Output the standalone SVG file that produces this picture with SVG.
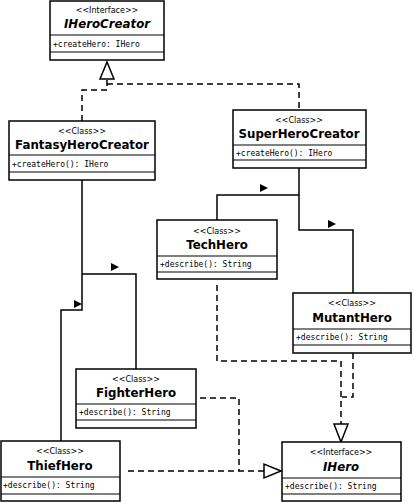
<svg xmlns="http://www.w3.org/2000/svg" width="414" height="503" viewBox="0 0 414 503">
<style>
rect{fill:#fff;stroke:#000;stroke-width:1.5}
line.d{stroke:#000;stroke-width:1.2}
.st{font-family:"DejaVu Sans",sans-serif;font-size:8px;text-anchor:middle}
.nm{font-family:"DejaVu Sans",sans-serif;font-size:11.8px;font-weight:bold;text-anchor:middle}
.it{font-style:italic}
.mb{font-family:"DejaVu Sans Mono",monospace;font-size:8px}
.s{fill:none;stroke:#000;stroke-width:1.5}
.ds{fill:none;stroke:#000;stroke-width:1.5;stroke-dasharray:6,4}
.tri{fill:#fff;stroke:#000;stroke-width:1.5}
</style>
<g id="connectors">
<path class="ds" d="M82,121 V90 H107 V80 M107,84 H299 V110"/>
<polygon class="tri" points="107,62 100,79 114,79"/>
<path class="s" d="M299,168 V195 H217 V220 M299,195 V230 H353 V293"/>
<polygon points="260,184 268,188 260,192"/>
<polygon points="328,220 336,224 328,228"/>
<path class="s" d="M82,180 V274 H136 V369 M82,274 V310 H61 V441"/>
<polygon points="111,263 119,267 111,271"/>
<polygon points="74,300 82,304 74,308"/>
<path class="ds" d="M217,285 V361 H341 V424 M353,353 V397 H342"/>
<path class="ds" d="M200,398 H239 V471 M128,471 H264"/>
<polygon class="tri" points="341,442 334,424 348,424"/>
<polygon class="tri" points="281,471 264,464 264,478"/>
</g>
<g id="IHeroCreator">
<rect x="50" y="1" width="114" height="59"/><line class="d" x1="50" y1="35" x2="164" y2="35"/><line class="d" x1="50" y1="52" x2="164" y2="52"/>
<text class="st" x="107" y="13">&lt;&lt;Interface&gt;&gt;</text><text class="nm it" x="107" y="28">IHeroCreator</text><text class="mb" x="53" y="47">+createHero: IHero</text>
</g>
<g id="FantasyHeroCreator">
<rect x="9" y="121" width="146" height="59"/><line class="d" x1="9" y1="155" x2="155" y2="155"/><line class="d" x1="9" y1="172" x2="155" y2="172"/>
<text class="st" x="82" y="134">&lt;&lt;Class&gt;&gt;</text><text class="nm" x="82" y="149">FantasyHeroCreator</text><text class="mb" x="12" y="167">+createHero(): IHero</text>
</g>
<g id="SuperHeroCreator">
<rect x="233" y="110" width="133" height="58"/><line class="d" x1="233" y1="145" x2="366" y2="145"/><line class="d" x1="233" y1="160" x2="366" y2="160"/>
<text class="st" x="299" y="123">&lt;&lt;Class&gt;&gt;</text><text class="nm" x="299" y="138">SuperHeroCreator</text><text class="mb" x="236" y="156">+createHero(): IHero</text>
</g>
<g id="TechHero">
<rect x="157" y="220" width="120" height="59"/><line class="d" x1="157" y1="256" x2="277" y2="256"/><line class="d" x1="157" y1="272" x2="277" y2="272"/>
<text class="st" x="217" y="234">&lt;&lt;Class&gt;&gt;</text><text class="nm" x="217" y="249">TechHero</text><text class="mb" x="160" y="267">+describe(): String</text>
</g>
<g id="MutantHero">
<rect x="293" y="293" width="118" height="60"/><line class="d" x1="293" y1="329" x2="411" y2="329"/><line class="d" x1="293" y1="345" x2="411" y2="345"/>
<text class="st" x="352" y="306">&lt;&lt;Class&gt;&gt;</text><text class="nm" x="352" y="322">MutantHero</text><text class="mb" x="296" y="340">+describe(): String</text>
</g>
<g id="FighterHero">
<rect x="76" y="369" width="120" height="59"/><line class="d" x1="76" y1="404" x2="196" y2="404"/><line class="d" x1="76" y1="420" x2="196" y2="420"/>
<text class="st" x="136" y="382">&lt;&lt;Class&gt;&gt;</text><text class="nm" x="136" y="397">FighterHero</text><text class="mb" x="79" y="415">+describe(): String</text>
</g>
<g id="ThiefHero">
<rect x="1" y="441" width="119" height="60"/><line class="d" x1="1" y1="477" x2="120" y2="477"/><line class="d" x1="1" y1="494" x2="120" y2="494"/>
<text class="st" x="60" y="454">&lt;&lt;Class&gt;&gt;</text><text class="nm" x="60" y="470">ThiefHero</text><text class="mb" x="3" y="488">+describe(): String</text>
</g>
<g id="IHero">
<rect x="282" y="442" width="119" height="59"/><line class="d" x1="282" y1="478" x2="401" y2="478"/><line class="d" x1="282" y1="494" x2="401" y2="494"/>
<text class="st" x="341" y="455">&lt;&lt;Interface&gt;&gt;</text><text class="nm it" x="341" y="471">IHero</text><text class="mb" x="285" y="489">+describe(): String</text>
</g>
</svg>
